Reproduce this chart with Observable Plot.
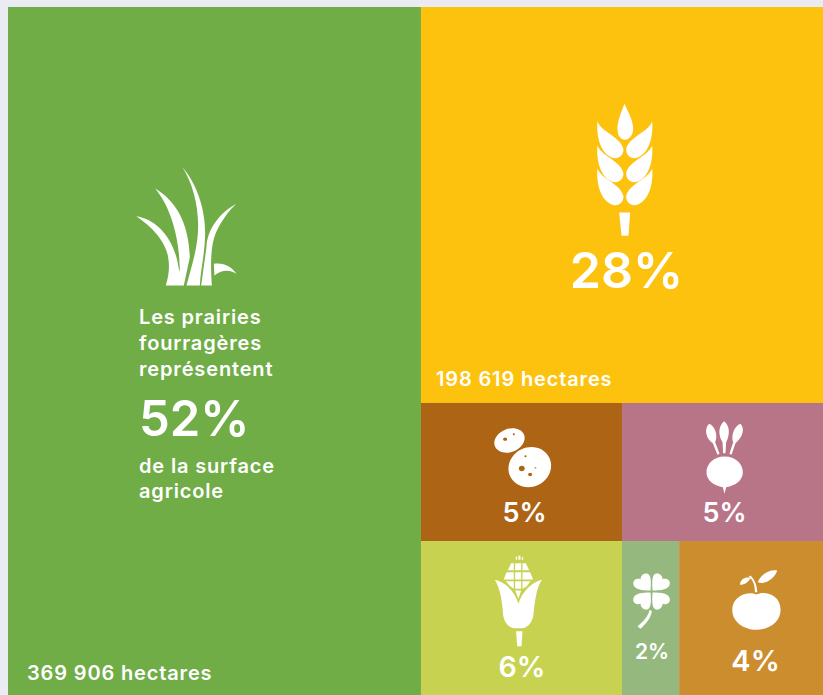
<!DOCTYPE html>
<html lang="fr">
<head>
<meta charset="utf-8">
<script src="https://cdn.jsdelivr.net/npm/d3@7"></script>
<script src="https://cdn.jsdelivr.net/npm/@observablehq/plot@0.6"></script>
<style>
html,body{margin:0;padding:0;background:#ebebf2;overflow:hidden}
svg{display:block}
g[font-size="20"], g[font-size="20"] text{letter-spacing:0.85px}
</style>
</head>
<body>
<div id="chart"></div>
<script>
// Data
const crops = ["prairies", "cereales", "pommes", "betteraves", "mais", "trefle", "fruits"];
const boxShare = [50.67, 28.39, 4.95, 4.95, 5.52, 1.57, 3.95];   // share of the box area
const percentLabels = ["52%", "28%", "5%", "5%", "6%", "2%", "4%"];
const cropColors = ["#70ad47", "#fdc20d", "#ad6414", "#b97588", "#c7d350", "#94b87e", "#cc8d2f"];
const hectareLabels = {prairies: "369 906 hectares", cereales: "198 619 hectares"};
const grassLinesTop = ["Les prairies", "fourragères", "représentent"];
const grassLinesBottom = ["de la surface", "agricole"];

const FONT = "Inter, sans-serif";
const leaf = name => ({name, value: boxShare[crops.indexOf(name)]});
const tree = {split: "dice", children: [
  leaf("prairies"),
  {split: "slice", children: [
    leaf("cereales"),
    {split: "slice", children: [
      {split: "dice", children: [leaf("pommes"), leaf("betteraves")]},
      {split: "dice", children: [leaf("mais"), leaf("trefle"), leaf("fruits")]}
    ]}
  ]}
]};
const root = d3.treemap()
  .size([1, 1]).round(false)
  .tile((n, a, b, c, d) => (n.data.split === "dice" ? d3.treemapDice : d3.treemapSlice)(n, a, b, c, d))
  (d3.hierarchy(tree).sum(d => d.value || 0));
const cells = root.leaves().map(n => ({
  name: n.data.name, x0: n.x0, x1: n.x1, y0: n.y0, y1: n.y1,
  cx: (n.x0 + n.x1) / 2, cy: (n.y0 + n.y1) / 2,
  color: cropColors[crops.indexOf(n.data.name)]
}));
const cell = name => cells.filter(d => d.name === name);

// Glyph drawing helpers: outlines in 3x units, around an origin (ox, oy)
const K = 0.5523;
function ell(cx, cy, rx, ry, deg, rev) {
  const a = deg * Math.PI / 180, c = Math.cos(a), s = Math.sin(a);
  const P = (x, y) => `${(cx + x * c - y * s).toFixed(1)} ${(cy + x * s + y * c).toFixed(1)}`;
  const f = rev ? -1 : 1;
  return `M${P(rx, 0)}` +
    `C${P(rx, f * K * ry)} ${P(K * rx, f * ry)} ${P(0, f * ry)}` +
    `C${P(-K * rx, f * ry)} ${P(-rx, f * K * ry)} ${P(-rx, 0)}` +
    `C${P(-rx, -f * K * ry)} ${P(-K * rx, -f * ry)} ${P(0, -f * ry)}` +
    `C${P(K * rx, -f * ry)} ${P(rx, -f * K * ry)} ${P(rx, 0)}Z`;
}
function glyph(d, ox, oy) {
  const tokens = d.match(/[MLCZ]|-?[\d.]+/g);
  return {draw(ctx) {
    let i = 0, cmd;
    const n = () => (+tokens[i++] - ox) / 3, m = () => (+tokens[i++] - oy) / 3;
    while (i < tokens.length) {
      if (/[MLCZ]/.test(tokens[i])) cmd = tokens[i++];
      if (cmd === "M") { const x = n(), y = m(); ctx.moveTo(x, y); cmd = "L"; }
      else if (cmd === "L") { const x = n(), y = m(); ctx.lineTo(x, y); }
      else if (cmd === "C") { const a = n(), b = m(), c = n(), e = m(), f = n(), g = m(); ctx.bezierCurveTo(a, b, c, e, f, g); }
      else if (cmd === "Z") ctx.closePath();
    }
  }};
}
const box = (x0, y0, x1, y1) => `M${x0} ${y0}L${x1} ${y0}L${x1} ${y1}L${x0} ${y1}Z`;
const wheatL = dy => `M111 ${92 + dy}C118 ${122 + dy} 187 ${142 + dy} 189 ${178 + dy}C189 ${192 + dy} 178 ${203 + dy} 165 ${203 + dy}C128 ${200 + dy} 106 ${150 + dy} 111 ${92 + dy}Z`;
const wheatR = dy => `M275 ${92 + dy}C268 ${122 + dy} 199 ${142 + dy} 197 ${178 + dy}C197 ${192 + dy} 208 ${203 + dy} 221 ${203 + dy}C258 ${200 + dy} 280 ${150 + dy} 275 ${92 + dy}Z`;

const glyphs = {
  prairies: glyph(
    "M107 197C165 205 222 260 235 355L250 405L196 405C205 375 208 350 203 320C195 270 150 225 107 197Z" +
    "M163 113C225 150 265 215 268 320L250 405L232 405C240 375 238 350 237 340C235 250 205 160 163 113Z" +
    "M246 50C285 95 315 170 314 250C313 310 300 360 298 405L258 405C275 340 293 290 293 225C293 160 275 95 246 50Z" +
    "M408 160C360 185 320 235 318 290L302 405L334 405C330 340 330 290 345 250C360 215 385 180 408 160Z" +
    "M340 340C370 335 395 350 408 370C385 355 360 360 342 375Z", 343.5, 603),
  cereales: glyph(
    "M192 40C205 70 218 90 218 115C218 135 205 148 194 148C180 148 171 135 171 115C171 90 183 65 192 40Z" +
    wheatL(0) + wheatR(0) + wheatL(72) + wheatR(72) + wheatL(141) + wheatR(141) +
    "M176 366L209 366L204 436L183 436Z", 186, 345),
  pommes: glyph(
    ell(267, 120, 47, 35, -22) + ell(328, 200, 65, 59, -25) +
    ell(254, 116, 6, 5, 0, true) + ell(280, 101, 3, 3, 0, true) + ell(304, 204, 9, 8, 0, true) +
    ell(329, 222, 6, 5, 0, true) + ell(315, 167, 3, 3, 0, true) + ell(345, 202, 3, 2, 0, true), 304.5, 216),
  betteraves: glyph(
    "M912 168C945 168 967 190 967 215C967 240 945 255 917 260L912 280L907 260C880 255 858 240 858 215C858 190 880 168 912 168Z" +
    "M911 62C927 75 930 100 917 125L915 158L908 158L906 125C891 100 895 75 911 62Z" +
    "M866 70C882 75 894 105 884 125L897 160L891 163L877 128C856 115 850 85 866 70Z" +
    "M960 70C974 85 967 110 945 128L933 163L927 160L938 125C930 105 943 75 960 70Z", 907.5, 216),
  mais: glyph(
    "M223 118C255 125 285 155 294 190C303 155 335 125 364 118C350 140 345 170 340 210C340 245 320 263 305 263L283 263C265 263 247 245 247 210C243 170 237 140 223 118Z" +
    "M287 272L306 272L303 317L290 317Z" +
    box(286, 48, 290, 58) + box(294, 46, 300, 58) + box(304, 50, 308, 58) +
    "M262 89L280 89L280 68L272 68Z" + box(284, 68, 302, 89) + "M306 68L316 68L326 89L306 89Z" +
    "M250 117L280 117L280 95L258 95Z" + box(284, 95, 302, 117) + "M306 95L329 95L338 117L306 117Z" +
    "M256 122L280 122L280 145L270 138Z" + box(284, 122, 302, 145) + "M306 122L330 122L318 138L306 145Z" +
    "M284 150L302 150L294 175Z", 304.5, 234),
  trefle: glyph(
    "M690 150C665 150 640 148 638 130C637 118 650 112 660 116C660 103 672 97 680 99C692 102 692 125 690 150Z" +
    "M696 150C721 150 746 148 748 130C749 118 736 112 726 116C726 103 714 97 706 99C694 102 694 125 696 150Z" +
    "M690 156C665 156 640 158 638 176C637 188 650 194 660 190C660 203 672 209 680 207C692 204 692 181 690 156Z" +
    "M696 156C721 156 746 158 748 176C749 188 736 194 726 190C726 203 714 209 706 207C694 204 694 181 696 156Z" +
    "M687 208L694 212C690 235 675 250 660 265L651 258C665 245 683 230 687 208Z", 691.5, 234),
  fruits: glyph(
    "M1007 162C1030 150 1080 160 1080 208C1080 245 1045 268 1007 268C970 268 935 245 935 208C935 165 985 150 1007 162Z" +
    "M1003 155L1010 155C1010 140 1005 120 990 105L985 108C998 120 1003 135 1003 155Z" +
    "M1012 125C1020 100 1050 85 1070 90C1065 110 1035 135 1012 125Z" +
    "M958 132C960 115 975 108 990 112C985 125 970 135 958 132Z", 993, 234)
};

// Where each percent label sits relative to its box centre
const pctStyle = {
  prairies: {dx: -76, dy: 69, fontSize: 49, textAnchor: "start"},
  cereales: {dx: 4, dy: 67, fontSize: 50},
  pommes: {dx: 2.5, dy: 41, fontSize: 27},
  betteraves: {dx: 1.5, dy: 41, fontSize: 27},
  mais: {dx: 0, dy: 49, fontSize: 28.5},
  trefle: {dx: 1, dy: 34, fontSize: 21},
  fruits: {dx: 4, dy: 43, fontSize: 29}
};

const txt = (data, x, y, text, o) => Plot.text(data, {
  x, y, text: () => text, fill: "#fff", fontFamily: FONT, fontWeight: 600,
  lineAnchor: "middle", ...o
});
const small = {fontSize: 20, textAnchor: "start"};

const marks = [
  Plot.rect(cells, {x1: "x0", x2: "x1", y1: "y0", y2: "y1", fill: "color", inset: 0})
];
for (const c of crops) {
  marks.push(Plot.dot(cell(c), {x: "cx", y: "cy", r: 10, symbol: glyphs[c], fill: "#fff", stroke: "none"}));
  marks.push(txt(cell(c), "cx", "cy", percentLabels[crops.indexOf(c)], pctStyle[c]));
}
grassLinesTop.forEach((t, i) => marks.push(txt(cell("prairies"), "cx", "cy", t,
  {...small, dx: -76, dy: -34 + i * 26})));
grassLinesBottom.forEach((t, i) => marks.push(txt(cell("prairies"), "cx", "cy", t,
  {...small, dx: -76, dy: 115 + i * 25.5})));
marks.push(txt(cell("prairies"), "x0", "y1", hectareLabels.prairies, {...small, dx: 18.5, dy: -22}));
marks.push(txt(cell("cereales"), "x0", "y1", hectareLabels.cereales, {...small, dx: 14.5, dy: -24}));

document.getElementById("chart").append(Plot.plot({
  width: 823, height: 695, margin: 0,
  x: {domain: [0, 1], range: [8, 823], axis: null},
  y: {domain: [0, 1], range: [7, 695], axis: null},
  style: {background: "#ebebf2"},
  marks
}));
</script>
</body>
</html>
